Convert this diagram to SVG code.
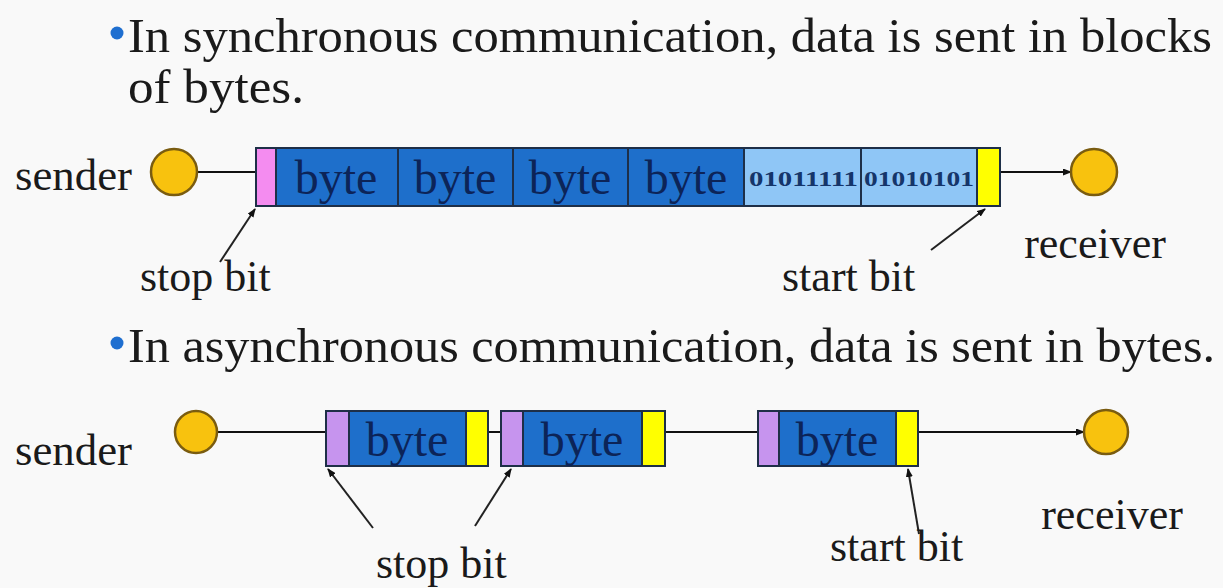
<svg xmlns="http://www.w3.org/2000/svg" width="1223" height="588" viewBox="0 0 1223 588">
  <defs>
    <style>
      .bullet-text { font-family: "Liberation Serif", serif; font-size: 48px; fill: #1a1a1a; }
      .label { font-family: "Liberation Serif", serif; font-size: 44px; fill: #1a1a1a; }
      .byte { font-family: "Liberation Serif", serif; font-size: 48px; fill: #0c2458; }
      .bits { font-family: "Liberation Serif", serif; font-size: 22px; fill: #15356a; font-weight: bold; }
      .dot { fill: #1f6fd0; }
      .station { fill: #f8c20e; stroke: #7a5c10; stroke-width: 2.5; }
      .cell { stroke: #1e2f48; stroke-width: 2; }
      .data { fill: #1e6fcb; }
      .flag { fill: #8fc6f6; }
      .stop-sync { fill: #f48cf0; }
      .stop-async { fill: #c694ee; }
      .start { fill: #ffff00; }
      .wire { stroke: #111; stroke-width: 2; fill: none; }
      .pointer { stroke: #222; stroke-width: 2; fill: none; }
    </style>
    <marker id="arrow" markerWidth="9" markerHeight="7" refX="8" refY="3.5" orient="auto" markerUnits="userSpaceOnUse">
      <path d="M0,0 L9,3.5 L0,7 z" fill="#111"/>
    </marker>
  </defs>

  <rect width="1223" height="588" fill="#f9f9f9"/>

  <!-- Bullet text -->
  <g id="caption-sync">
    <circle class="dot" cx="117" cy="33" r="6.5"/>
    <text class="bullet-text" x="128" y="52" textLength="1084" lengthAdjust="spacingAndGlyphs">In synchronous communication, data is sent in blocks</text>
    <text class="bullet-text" x="128" y="103" textLength="176" lengthAdjust="spacingAndGlyphs">of  bytes.</text>
  </g>
  <g id="caption-async">
    <circle class="dot" cx="117" cy="343" r="6.5"/>
    <text class="bullet-text" x="128" y="362" textLength="1087" lengthAdjust="spacingAndGlyphs">In asynchronous communication, data is sent in bytes.</text>
  </g>

  <!-- Connectors -->
  <g id="connectors">
    <line class="wire" x1="197" y1="172" x2="256" y2="172"/>
    <line class="wire" x1="1000" y1="172" x2="1071" y2="172" marker-end="url(#arrow)"/>
    <line class="pointer" x1="220" y1="262" x2="255" y2="209" marker-end="url(#arrow)"/>
    <line class="pointer" x1="931" y1="250" x2="985" y2="209" marker-end="url(#arrow)"/>

    <line class="wire" x1="217" y1="432" x2="326" y2="432"/>
    <line class="wire" x1="488" y1="432" x2="501" y2="432"/>
    <line class="wire" x1="665" y1="432" x2="758" y2="432"/>
    <line class="wire" x1="918" y1="432" x2="1084" y2="432" marker-end="url(#arrow)"/>
    <line class="pointer" x1="373" y1="528" x2="328" y2="469" marker-end="url(#arrow)"/>
    <line class="pointer" x1="475" y1="526" x2="511" y2="469" marker-end="url(#arrow)"/>
    <line class="pointer" x1="919" y1="534" x2="908" y2="469" marker-end="url(#arrow)"/>
  </g>

  <!-- Synchronous link -->
  <g id="sync-sender">
    <text class="label" x="15" y="190" textLength="117" lengthAdjust="spacingAndGlyphs">sender</text>
    <circle class="station" cx="174" cy="172" r="23"/>
  </g>
  <g id="sync-frame">
    <rect class="cell stop-sync" x="256" y="148" width="20" height="58"/>
    <rect class="cell data" x="276" y="148" width="122" height="58"/>
    <rect class="cell data" x="398" y="148" width="115" height="58"/>
    <rect class="cell data" x="513" y="148" width="115" height="58"/>
    <rect class="cell data" x="628" y="148" width="116" height="58"/>
    <rect class="cell flag" x="744" y="148" width="117" height="58"/>
    <rect class="cell flag" x="861" y="148" width="116" height="58"/>
    <rect class="cell start" x="977" y="148" width="23" height="58"/>
    <text class="byte" x="336" y="194" text-anchor="middle">byte</text>
    <text class="byte" x="455" y="194" text-anchor="middle">byte</text>
    <text class="byte" x="570" y="194" text-anchor="middle">byte</text>
    <text class="byte" x="686" y="194" text-anchor="middle">byte</text>
    <text class="bits" x="749" y="186" textLength="109" lengthAdjust="spacingAndGlyphs">01011111</text>
    <text class="bits" x="864" y="186" textLength="110" lengthAdjust="spacingAndGlyphs">01010101</text>
  </g>
  <g id="sync-receiver">
    <circle class="station" cx="1094" cy="172" r="23"/>
    <text class="label" x="1095" y="258" text-anchor="middle">receiver</text>
  </g>
  <g id="sync-labels">
    <text class="label" x="140" y="291">stop bit</text>
    <text class="label" x="782" y="291">start bit</text>
  </g>

  <!-- Asynchronous link -->
  <g id="async-sender">
    <text class="label" x="15" y="465" textLength="117" lengthAdjust="spacingAndGlyphs">sender</text>
    <circle class="station" cx="196" cy="432" r="21"/>
  </g>
  <g id="async-byte-1">
    <rect class="cell stop-async" x="326" y="411" width="23" height="55"/>
    <rect class="cell data" x="349" y="411" width="117" height="55"/>
    <rect class="cell start" x="466" y="411" width="22" height="55"/>
    <text class="byte" x="407" y="456" text-anchor="middle">byte</text>
  </g>
  <g id="async-byte-2">
    <rect class="cell stop-async" x="501" y="411" width="22" height="55"/>
    <rect class="cell data" x="523" y="411" width="119" height="55"/>
    <rect class="cell start" x="642" y="411" width="23" height="55"/>
    <text class="byte" x="582" y="456" text-anchor="middle">byte</text>
  </g>
  <g id="async-byte-3">
    <rect class="cell stop-async" x="758" y="411" width="21" height="55"/>
    <rect class="cell data" x="779" y="411" width="117" height="55"/>
    <rect class="cell start" x="896" y="411" width="22" height="55"/>
    <text class="byte" x="837" y="456" text-anchor="middle">byte</text>
  </g>
  <g id="async-receiver">
    <circle class="station" cx="1106" cy="432" r="22"/>
    <text class="label" x="1112" y="529" text-anchor="middle">receiver</text>
  </g>
  <g id="async-labels">
    <text class="label" x="376" y="578">stop bit</text>
    <text class="label" x="830" y="561">start bit</text>
  </g>
</svg>
